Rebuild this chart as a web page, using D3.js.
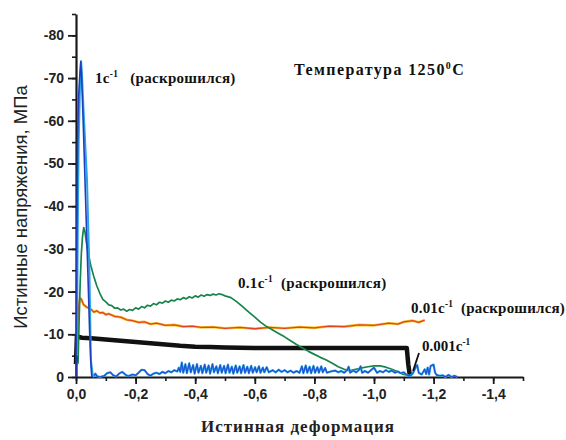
<!DOCTYPE html>
<html>
<head>
<meta charset="utf-8">
<script src="https://cdn.jsdelivr.net/npm/d3@7"></script>
<style>
  html, body { margin: 0; padding: 0; background: #fff; }
  svg { display: block; }
</style>
</head>
<body>
<svg id="chart" width="566" height="440"></svg>
<script>
// ---------------- DATA ----------------
const xTickValues = [0, -0.2, -0.4, -0.6, -0.8, -1.0, -1.2, -1.4];
const xTickLabels = ["0,0", "-0,2", "-0,4", "-0,6", "-0,8", "-1,0", "-1,2", "-1,4"];
const yTickValues = [0, -10, -20, -30, -40, -50, -60, -70, -80];
const yTickLabels = ["0", "-10", "-20", "-30", "-40", "-50", "-60", "-70", "-80"];

// 1 c^-1 : initial spike (two traces, dark and light blue)
const rate1SpikeDark = [[0,0],[-0.002,-25],[-0.004,-46],[-0.006,-58],[-0.009,-66],[-0.013,-71],[-0.016,-73.8],
  [-0.019,-70],[-0.024,-60],[-0.032,-42],[-0.04,-24],[-0.046,-10],[-0.05,-3],[-0.053,0]];
const rate1SpikeLight = [[-0.003,-5],[-0.006,-35],[-0.009,-55],[-0.013,-67],[-0.017,-74],[-0.02,-71],
  [-0.025,-63],[-0.037,-46],[-0.045,-25],[-0.05,-4],[-0.056,-0.5],[-0.06,0]];
// 1 c^-1 : residual noisy trace near zero
const rate1Tail = [[-0.057,0],[-0.065,-0.8],[-0.07,-0.2],[-0.08,0],[-0.095,-0.3],[-0.105,-0.9],[-0.115,-1.1],
  [-0.125,-0.4],[-0.135,-0.1],[-0.145,-0.8],[-0.155,-1.2],[-0.165,-0.6],[-0.175,-0.2],[-0.19,-0.6],[-0.2,-0.4],
  [-0.21,-1.0],[-0.22,-1.7],[-0.23,-1.6],[-0.24,-0.7],[-0.25,-0.3],[-0.26,-0.8],[-0.27,-1.0],[-0.28,-0.7],
  [-0.29,-1.2],[-0.3,-0.9],[-0.31,-1.4],[-0.32,-1.1],[-0.33,-1.6],[-0.34,-1.3],[-0.345,-2.2],[-0.35,-1.2],
  [-0.355,-3.4],[-0.36,-1.0],[-0.367,-3.0],[-0.372,-0.9],[-0.38,-3.2],[-0.385,-1.1],[-0.393,-2.8],[-0.398,-0.8],
  [-0.406,-3.0],[-0.411,-1.0],[-0.419,-2.6],[-0.424,-0.9],[-0.432,-2.9],[-0.437,-1.0],[-0.445,-2.7],[-0.45,-0.8],
  [-0.458,-3.0],[-0.463,-1.1],[-0.471,-2.5],[-0.476,-0.9],[-0.484,-2.8],[-0.489,-1.0],[-0.497,-2.6],[-0.502,-0.9],
  [-0.51,-2.9],[-0.515,-1.0],[-0.523,-2.4],[-0.528,-0.8],[-0.536,-2.7],[-0.541,-1.0],[-0.549,-2.5],[-0.554,-0.9],
  [-0.562,-2.8],[-0.567,-1.0],[-0.575,-2.4],[-0.58,-0.9],[-0.588,-2.6],[-0.593,-1.0],[-0.601,-2.3],[-0.606,-1.1],
  [-0.614,-2.5],[-0.619,-1.0],[-0.627,-2.2],[-0.632,-1.1],[-0.64,-2.3],[-0.647,-1.1],
  [-0.66,-1.6],[-0.67,-1.1],[-0.68,-1.7],[-0.69,-1.2],[-0.7,-1.6],[-0.71,-1.1],[-0.72,-1.5],[-0.73,-1.0],
  [-0.74,-1.4],[-0.75,-1.0],[-0.758,-2.5],[-0.763,-0.9],[-0.771,-2.7],[-0.776,-1.0],[-0.784,-2.4],[-0.789,-0.9],
  [-0.797,-2.6],[-0.802,-1.0],[-0.81,-2.3],[-0.815,-1.0],[-0.823,-2.5],[-0.828,-1.1],[-0.836,-2.1],[-0.842,-1.0],
  [-0.855,-1.3],[-0.87,-1.5],[-0.88,-1.1],[-0.89,-1.4],[-0.9,-1.0],[-0.91,-1.6],[-0.915,-2.4],[-0.92,-1.0],[-0.93,-1.5],
  [-0.94,-1.1],[-0.95,-1.7],[-0.955,-2.5],[-0.96,-1.0],[-0.97,-1.4],[-0.98,-1.0],[-0.99,-1.6],[-1.0,-2.2],
  [-1.01,-1.0],[-1.02,-1.4],[-1.03,-1.1],[-1.04,-1.6],[-1.05,-1.2],[-1.06,-1.5],[-1.07,-1.0],[-1.08,-1.3],
  [-1.09,-0.9],[-1.1,-1.1],[-1.11,-0.5],[-1.12,-0.2],[-1.13,-0.8],[-1.14,-2.3],[-1.145,-2.8],[-1.15,-1.0],
  [-1.16,-0.6],[-1.17,-1.8],[-1.175,-0.7],[-1.18,-2.2],[-1.185,-0.6],[-1.19,-2.6],[-1.2,-2.9],[-1.205,-1.0],
  [-1.21,-0.5],[-1.22,-0.3],[-1.23,-0.4],[-1.24,0],[-1.25,-0.5],[-1.26,0],[-1.27,-0.3],[-1.28,0]];

// 0.1 c^-1
const rate01 = [[-0.004,-3],[-0.007,-3.5],[-0.01,-12],[-0.014,-22],[-0.018,-29],[-0.022,-33],[-0.026,-35],
  [-0.03,-34],[-0.036,-31],[-0.042,-28.6],[-0.05,-26],[-0.06,-23.5],[-0.07,-21.3],[-0.08,-19.6],[-0.09,-18.2],
  [-0.1,-17.6],[-0.11,-16.9],[-0.12,-16.7],[-0.13,-16.1],[-0.14,-16.2],[-0.15,-15.7],[-0.16,-15.9],[-0.17,-15.4],
  [-0.18,-15.8],[-0.19,-15.6],[-0.2,-16.2],[-0.21,-15.9],[-0.22,-16.5],[-0.23,-16.2],[-0.24,-16.8],[-0.25,-16.6],
  [-0.26,-17.2],[-0.27,-16.9],[-0.28,-17.5],[-0.29,-17.3],[-0.3,-17.8],[-0.31,-17.5],[-0.32,-18.0],[-0.33,-17.8],
  [-0.34,-18.3],[-0.35,-18.1],[-0.36,-18.6],[-0.37,-18.3],[-0.38,-18.8],[-0.39,-18.5],[-0.4,-19.0],[-0.41,-18.7],
  [-0.42,-19.2],[-0.43,-18.9],[-0.44,-19.3],[-0.45,-19.1],[-0.46,-19.4],[-0.47,-19.2],[-0.48,-19.5],[-0.49,-19.3],
  [-0.5,-19.0],[-0.52,-18.6],[-0.54,-17.6],[-0.56,-16.4],[-0.58,-15.2],[-0.6,-14.0],[-0.62,-12.8],[-0.64,-11.8],
  [-0.66,-11.0],[-0.68,-10.2],[-0.7,-9.4],[-0.72,-8.5],[-0.74,-7.6],[-0.76,-6.8],[-0.78,-6.0],[-0.8,-5.3],
  [-0.82,-4.6],[-0.84,-4.0],[-0.86,-3.2],[-0.88,-2.4],[-0.9,-1.8],[-0.92,-1.5],[-0.95,-2.0],[-0.98,-2.4],
  [-1.0,-2.6],[-1.02,-2.6],[-1.04,-2.3],[-1.06,-1.8],[-1.08,-1.2],[-1.1,-0.6],[-1.12,-0.3]];

// 0.01 c^-1
const rate001 = [[-0.004,-10],[-0.008,-16],[-0.013,-18.5],[-0.018,-18.2],[-0.025,-17],[-0.035,-16.4],
  [-0.05,-15.9],[-0.06,-15.2],[-0.07,-15.5],[-0.08,-15.0],[-0.09,-15.1],[-0.1,-14.6],[-0.11,-14.8],[-0.13,-14.2],
  [-0.15,-14.0],[-0.17,-13.4],[-0.19,-13.2],[-0.21,-12.8],[-0.23,-12.9],[-0.25,-12.4],[-0.27,-12.6],[-0.3,-12.1],
  [-0.33,-12.2],[-0.36,-11.8],[-0.39,-11.9],[-0.42,-11.6],[-0.46,-11.7],[-0.5,-11.4],[-0.55,-11.6],[-0.6,-11.3],
  [-0.65,-11.6],[-0.7,-11.4],[-0.75,-11.7],[-0.8,-11.5],[-0.85,-11.9],[-0.9,-11.8],[-0.95,-12.2],[-1.0,-12.1],
  [-1.05,-12.6],[-1.08,-12.4],[-1.1,-12.9],[-1.13,-13.2],[-1.15,-12.8],[-1.17,-13.3]];

// 0.001 c^-1
const rate0001 = [[0,-3],[-0.003,-9.5],[-0.02,-9.2],[-0.05,-9.1],[-0.1,-8.8],[-0.15,-8.5],[-0.2,-8.2],
  [-0.25,-7.9],[-0.3,-7.6],[-0.35,-7.3],[-0.4,-7.1],[-0.45,-7.0],[-0.5,-6.9],[-0.6,-6.8],[-0.7,-6.8],
  [-0.8,-6.8],[-0.9,-6.8],[-1.0,-6.8],[-1.05,-6.8],[-1.11,-6.8],[-1.115,-3],[-1.12,-0.5]];

const leader0001 = [[-1.151,-5.6],[-1.131,-1.4]];

// ---------------- LAYOUT ----------------
const svg = d3.select("#chart");
const x = d3.scaleLinear().domain([0, -1.5]).range([76, 523]);
const y = d3.scaleLinear().domain([0, -85]).range([377, 14]);

const line = d3.line().x(d => x(d[0])).y(d => y(d[1]));

// ---------------- AXES ----------------
const axisColor = "#1a1a1a";
const tickFont = "'Liberation Sans', Arial, sans-serif";

const yMinor = d3.range(0, -86, -5);
svg.append("g").attr("transform", "translate(76,0)")
  .call(d3.axisLeft(y).tickValues(yMinor).tickSize(4).tickFormat("").tickSizeOuter(0))
  .call(g => g.select(".domain").remove())
  .call(g => g.selectAll("line").attr("stroke", axisColor).attr("stroke-width", 1.6));

const xMinor = d3.range(0, -1.51, -0.1);
svg.append("g").attr("transform", "translate(0,377)")
  .call(d3.axisBottom(x).tickValues(xMinor).tickSize(4).tickFormat("").tickSizeOuter(0))
  .call(g => g.select(".domain").remove())
  .call(g => g.selectAll("line").attr("stroke", axisColor).attr("stroke-width", 1.6));

svg.append("g").attr("transform", "translate(76,0)")
  .call(d3.axisLeft(y).tickValues(yTickValues).tickSize(8).tickPadding(4).tickSizeOuter(0)
    .tickFormat((d, i) => yTickLabels[i]))
  .call(g => g.select(".domain").attr("stroke", axisColor).attr("stroke-width", 2.2))
  .call(g => g.selectAll("line").attr("stroke", axisColor).attr("stroke-width", 1.8))
  .call(g => g.selectAll("text").attr("font-family", tickFont).attr("font-size", 14)
    .attr("font-weight", "bold").attr("fill", "#222"));

svg.append("g").attr("transform", "translate(0,377)")
  .call(d3.axisBottom(x).tickValues(xTickValues).tickSize(7).tickPadding(5).tickSizeOuter(0)
    .tickFormat((d, i) => xTickLabels[i]))
  .call(g => g.select(".domain").attr("stroke", axisColor).attr("stroke-width", 2.2))
  .call(g => g.selectAll("line").attr("stroke", axisColor).attr("stroke-width", 1.8))
  .call(g => g.selectAll("text").attr("font-family", tickFont).attr("font-size", 14)
    .attr("font-weight", "bold").attr("fill", "#222"));

// ---------------- SERIES ----------------
const plot = svg.append("g").attr("fill", "none").attr("stroke-linejoin", "round");

plot.append("path").datum(rate001).attr("d", line).attr("stroke", "#f4c430").attr("stroke-width", 2.6);
plot.append("path").datum(rate001).attr("d", line).attr("stroke", "#e2441c").attr("stroke-width", 1.3);

plot.append("path").datum(rate0001).attr("d", line).attr("stroke", "#111").attr("stroke-width", 4.5);

plot.append("path").datum(rate01).attr("d", line).attr("stroke", "#17844a").attr("stroke-width", 1.7);

plot.append("path").datum(rate1Tail).attr("d", line).attr("stroke", "#2aa4e6").attr("stroke-width", 2.2);
plot.append("path").datum(rate1Tail).attr("d", line).attr("stroke", "#1f4fd0").attr("stroke-width", 1.1);
plot.append("path").datum(rate1SpikeLight).attr("d", line).attr("stroke", "#2aa4e6").attr("stroke-width", 2);
plot.append("path").datum(rate1SpikeDark).attr("d", line).attr("stroke", "#1f3fc0").attr("stroke-width", 1.6);

plot.append("path").datum(leader0001).attr("d", line).attr("stroke", "#111").attr("stroke-width", 1.8);

// ---------------- TEXT ----------------
const serif = "'Liberation Serif', 'Times New Roman', serif";

function label(xp, yp, main, sup, rest, size, spacing) {
  const t = svg.append("text").attr("x", xp).attr("y", yp)
    .attr("font-family", serif).attr("font-weight", "bold").attr("font-size", size)
    .attr("letter-spacing", spacing || 0).attr("fill", "#111");
  t.append("tspan").text(main);
  t.append("tspan").attr("font-size", size * 0.62).attr("dy", -6).text(sup);
  if (rest) t.append("tspan").attr("dy", 6).text(rest);
  return t;
}

label(95, 83, "1c", "-1", "\u00a0\u00a0\u00a0(раскрошился)", 15, 0.3);
label(238, 288, "0.1c", "-1", "\u00a0\u00a0(раскрошился)", 15, 0.3);
label(411, 313, "0.01c", "-1", "\u00a0\u00a0(раскрошился)", 15, 0.2);
label(422, 351, "0.001c", "-1", null, 15, 0);
label(294, 75, "Температура 1250", "0", "C", 16, 1.4);

svg.append("text")
  .attr("transform", "translate(27,207) rotate(-90)")
  .attr("text-anchor", "middle")
  .attr("font-family", tickFont).attr("font-size", 18.5).attr("fill", "#222")
  .text("Истинные напряжения, МПа");

svg.append("text")
  .attr("x", 298).attr("y", 432)
  .attr("text-anchor", "middle")
  .attr("font-family", serif).attr("font-weight", "bold").attr("font-size", 17)
  .attr("letter-spacing", 1).attr("fill", "#222")
  .text("Истинная деформация");
</script>
</body>
</html>
